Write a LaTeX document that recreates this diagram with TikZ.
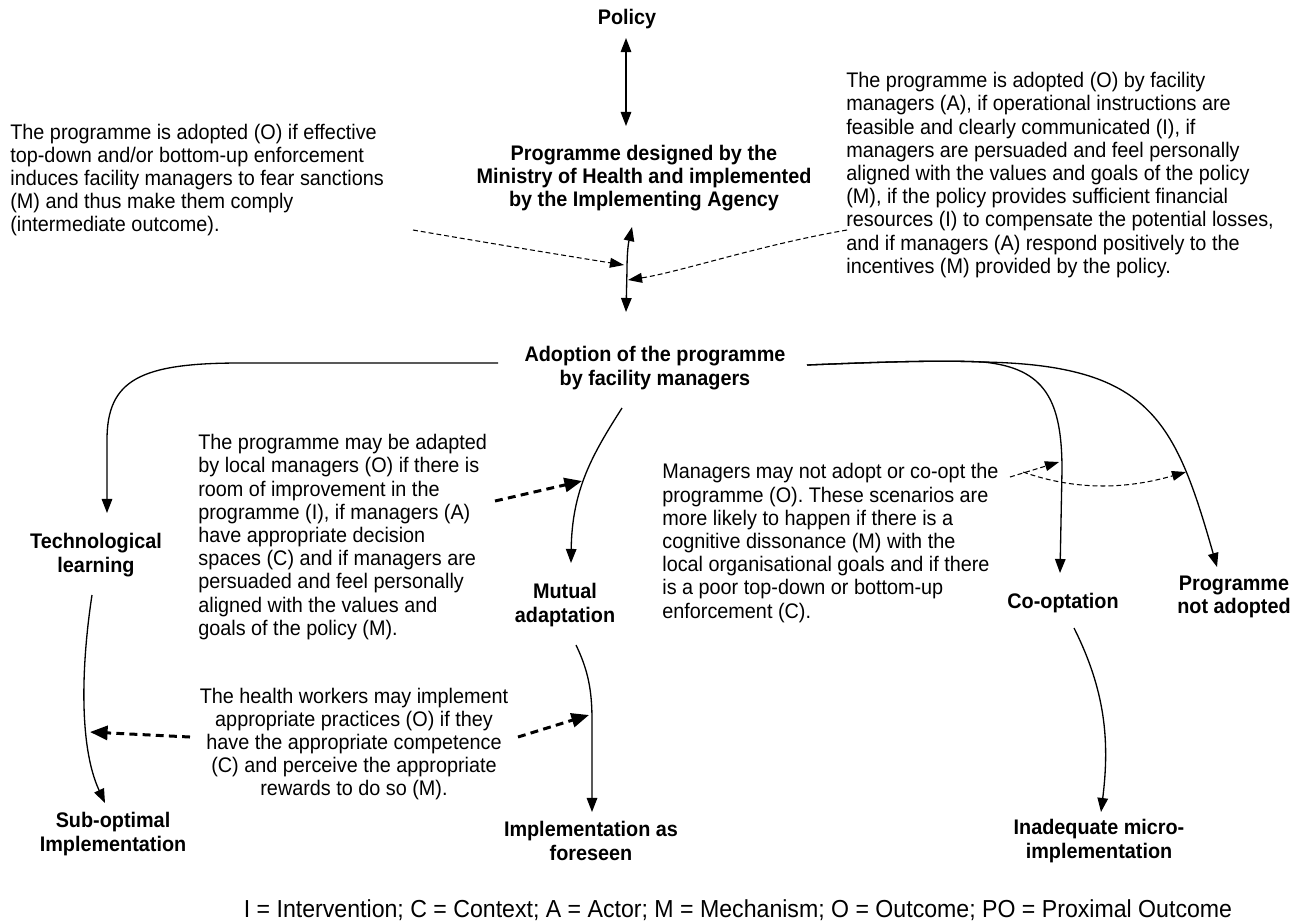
\documentclass[tikz,border=0pt]{standalone}
\usepackage{fontspec}
\setmainfont[FakeStretch=0.94]{Liberation Sans}
\usepackage{tikz}
\usetikzlibrary{arrows.meta,calc}
\newcommand{\bodysize}{\fontsize{12}{13.2}\selectfont}
\newcommand{\keysize}{\fontsize{14}{16}\selectfont}

\begin{document}
\begin{tikzpicture}
[x=0.02cm,y=-0.02cm,every node/.style={inner sep=0pt},
 head/.style={font=\bfseries\bodysize,align=center},
 note/.style={font=\bodysize,align=left,anchor=west},
 flow/.style={-{Triangle[length=8pt,width=6pt]},line width=0.75pt},
 both/.style={{Triangle[length=8pt,width=6pt]}-{Triangle[length=8pt,width=6pt]},line width=0.75pt},
 cue/.style={-{Triangle[length=8pt,width=5.6pt]},line width=0.6pt,dash pattern=on 2.8pt off 1.7pt},
 cuebold/.style={-{Triangle[length=10pt,width=8pt]},line width=1.7pt,dash pattern=on 4.5pt off 3pt}]
\useasboundingbox (0,0) rectangle (1298,921);

% outcomes and stages
\node[head] (policy) at (627,19) {Policy};
\node[head] (prog) at (644,178) {Programme designed by the\\Ministry of Health and implemented\\by the Implementing Agency};
\node[head] (adopt) at (655,368) {Adoption of the programme\\by facility managers};
\node[head] (tech) at (96,555) {Technological\\learning};
\node[head] (mutual) at (565,605) {Mutual\\adaptation};
\node[head] (coopt) at (1063,603) {Co-optation};
\node[head] (notad) at (1234,597) {Programme\\not adopted};
\node[head] (subopt) at (113,834) {Sub-optimal\\Implementation};
\node[head] (asfore) at (591,841) {Implementation as\\foreseen};
\node[head] (inadeq) at (1099,841) {Inadequate micro-\\implementation};

% explanations
\node[note] (enforce) at (10,180) {The programme is adopted (O) if effective\\top-down and/or bottom-up enforcement\\induces facility managers to fear sanctions\\(M) and thus make them comply\\(intermediate outcome).};
\node[note] (persuade) at (846,175) {The programme is adopted (O) by facility\\managers (A), if operational instructions are\\feasible and clearly communicated (I), if\\managers are persuaded and feel personally\\aligned with the values and goals of the policy\\(M), if the policy provides sufficient financial\\resources (I) to compensate the potential losses,\\and if managers (A) respond positively to the\\incentives (M) provided by the policy.};
\node[note] (adapt) at (198,537) {The programme may be adapted\\by local managers (O) if there is\\room of improvement in the\\programme (I), if managers (A)\\have appropriate decision\\spaces (C) and if managers are\\persuaded and feel personally\\aligned with the values and\\goals of the policy (M).};
\node[note] (reject) at (662,543) {Managers may not adopt or co-opt the\\programme (O). These scenarios are\\more likely to happen if there is a\\cognitive dissonance (M) with the\\local organisational goals and if there\\is a poor top-down or bottom-up\\enforcement (C).};
\node[font=\bodysize,align=center] (workers) at (354,744) {The health workers may implement\\appropriate practices (O) if they\\have the appropriate competence\\(C) and perceive the appropriate\\rewards to do so (M).};
\node[font=\keysize] (key) at (738,910) {I = Intervention; C = Context; A = Actor; M = Mechanism; O = Outcome; PO = Proximal Outcome};

% points on the arrows
\coordinate (jtop) at (624,265);
\coordinate (jbot) at (628,280);
\coordinate (jmut) at (582,481);
\coordinate (jsub) at (90,732);
\coordinate (jfore) at (589,715);
\coordinate (jco) at (1059,462);
\coordinate (jnot) at (1186,472);

% main flow
\draw[both] ($(policy)+(-1,19)$) -- ($(policy)+(-1,107)$);
\draw[both] ($(prog)+(-12,49)$) .. controls (628,245) and (627,255) .. (627,270) -- ($(adopt)+(-29,-56)$);
\draw[flow] ($(adopt)+(-157,-5)$) -- (240,363) .. controls (140,363) and (107,380) .. (107,440) -- ($(tech)+(11,-42)$);
\draw[flow] ($(tech)+(-4,40)$) .. controls (82,660) and (78,745) .. ($(subopt)+(-8,-31)$);
\draw[flow] ($(adopt)+(-33,40)$) .. controls (592,455) and (572,490) .. ($(mutual)+(6,-42)$);
\draw[flow] ($(mutual)+(11,40)$) .. controls (588,670) and (592,690) .. (592,720) -- ($(asfore)+(1,-29)$);
\draw[flow] ($(adopt)+(152,-3)$) .. controls (880,362) and (940,360) .. (983,362)
  .. controls (1045,368) and (1062,400) .. (1062,470) -- ($(coopt)+(-3,-30)$);
\draw[flow] ($(adopt)+(152,-3)$) .. controls (880,362) and (940,360) .. (983,362)
  .. controls (1150,365) and (1175,420) .. ($(notad)+(-17,-30)$);
\draw[flow] ($(coopt)+(11,25)$) .. controls (1105,690) and (1110,740) .. ($(inadeq)+(2,-29)$);

% explanations pointing at the arrows
\draw[cue] (413,230) .. controls (500,245) and (580,258) .. (jtop);
\draw[cue] (847,230) .. controls (760,245) and (680,272) .. (jbot);
\draw[cue] (1010,477) -- (jco);
\draw[cue] (1023,472) .. controls (1080,492) and (1130,488) .. (jnot);
\draw[cuebold] (495,501) -- (jmut);
\draw[cuebold] (190,737) -- (jsub);
\draw[cuebold] (518,737) -- (jfore);
\end{tikzpicture}
\end{document}
